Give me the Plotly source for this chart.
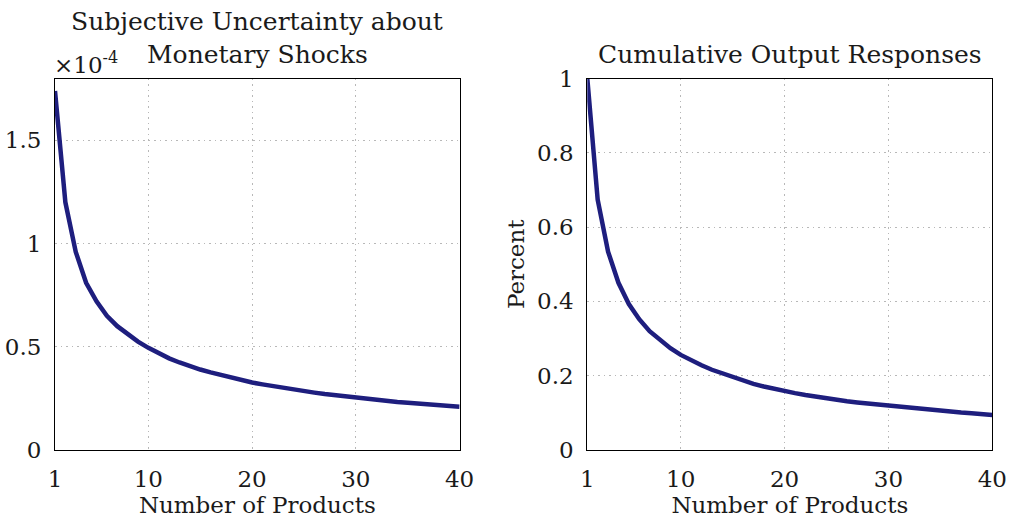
import plotly.graph_objects as go

n_products = list(range(1, 41))

# Left panel: subjective uncertainty (units of 1e-4)
uncertainty_e4 = [1.74, 1.20, 0.96, 0.81, 0.72, 0.65, 0.60, 0.56, 0.525, 0.495,
                  0.468, 0.444, 0.424, 0.406, 0.390, 0.376, 0.363, 0.351, 0.338, 0.327,
                  0.318, 0.309, 0.300, 0.292, 0.285, 0.278, 0.271, 0.265, 0.259, 0.253,
                  0.248, 0.243, 0.238, 0.233, 0.229, 0.225, 0.221, 0.217, 0.213, 0.209]

# Right panel: cumulative output responses (percent)
output_resp = [1.0, 0.674, 0.534, 0.45, 0.393, 0.352, 0.320, 0.295, 0.274, 0.256,
               0.241, 0.228, 0.216, 0.206, 0.195, 0.186, 0.178, 0.171, 0.164, 0.158,
               0.153, 0.148, 0.143, 0.139, 0.135, 0.131, 0.128, 0.125, 0.122, 0.119,
               0.116, 0.113, 0.110, 0.108, 0.105, 0.103, 0.101, 0.099, 0.096, 0.094]

x_ticks = [1, 10, 20, 30, 40]
left_yticks = [0, 0.5, 1, 1.5]
left_ytext = ["0", "0.5", "1", "1.5"]
right_yticks = [0, 0.2, 0.4, 0.6, 0.8, 1]
right_ytext = ["0", "0.2", "0.4", "0.6", "0.8", "1"]

W, H = 1009, 523
FONT = "DejaVu Serif"
FS = 23
FS_TITLE = 25
LINE = "#1e1e7e"
GRID = "#b8b8b8"
TXT = "#1a1a1a"

fig = go.Figure()
fig.add_trace(go.Scatter(x=n_products, y=uncertainty_e4, mode="lines",
                         line=dict(color=LINE, width=4.5),
                         xaxis="x", yaxis="y", showlegend=False))
fig.add_trace(go.Scatter(x=n_products, y=output_resp, mode="lines",
                         line=dict(color=LINE, width=4.5),
                         xaxis="x2", yaxis="y2", showlegend=False))

ydom = [(H - 450) / H, (H - 78.5) / H]
axis_common = dict(showline=True, linecolor="black", linewidth=1, mirror=True,
                   showgrid=True, gridcolor=GRID, griddash="1.5px,4px", gridwidth=1.3,
                   zeroline=False, ticks="", automargin=False,
                   tickfont=dict(family=FONT, size=FS, color=TXT),
                   ticklabelstandoff=8)

fig.update_layout(
    width=W, height=H,
    margin=dict(l=0, r=0, t=0, b=0, autoexpand=False),
    paper_bgcolor="white", plot_bgcolor="white",
    font=dict(family=FONT, size=FS, color=TXT),
    xaxis=dict(domain=[55 / W, 459.6 / W], range=[1, 40], tickvals=x_ticks,
               title=dict(text="Number of Products", standoff=4, font=dict(family=FONT, size=FS)),
               anchor="y", **axis_common),
    yaxis=dict(domain=ydom, range=[0, 1.8], tickvals=left_yticks, ticktext=left_ytext,
               anchor="x", **axis_common),
    xaxis2=dict(domain=[587.3 / W, 992.3 / W], range=[1, 40], tickvals=x_ticks,
                title=dict(text="Number of Products", standoff=4, font=dict(family=FONT, size=FS)),
                anchor="y2", **axis_common),
    yaxis2=dict(domain=ydom, range=[0, 1], tickvals=right_yticks, ticktext=right_ytext,
                title=dict(text="Percent", standoff=6, font=dict(family=FONT, size=FS)),
                anchor="x2", **axis_common),
)

annotations = [
    dict(text="Subjective Uncertainty about", x=257 / W, y=(H - 22) / H),
    dict(text="Monetary Shocks", x=257 / W, y=(H - 55) / H),
    dict(text="Cumulative Output Responses", x=790 / W, y=(H - 55) / H),
]
for a in annotations:
    fig.add_annotation(xref="paper", yref="paper", xanchor="center", yanchor="middle",
                       showarrow=False, font=dict(family=FONT, size=FS_TITLE, color=TXT), **a)
fig.add_annotation(text="×10<sup>-4</sup>", xref="paper", yref="paper",
                   x=52 / W, y=(H - 63) / H, xanchor="left", yanchor="middle",
                   showarrow=False, font=dict(family=FONT, size=FS, color=TXT))

fig.write_html("out.html")
